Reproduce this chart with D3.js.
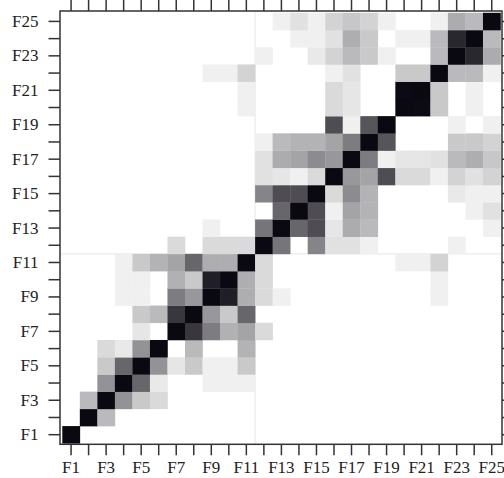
<!DOCTYPE html>
<html lang="en">
<meta charset="UTF-8">
<style>
    body { margin: 0; background: #fff; }
    .axis text { font-family: "Liberation Serif", "Times New Roman", serif; font-size: 17px; fill: #222; }
    .axis line { stroke: #333; stroke-width: 1.5px; }
    .frame { fill: none; stroke: #333; stroke-width: 1.5px; }
    .sep { stroke: #e6e6e6; stroke-width: 1px; }
</style>
<body>
<svg width="504" height="478" id="chart"></svg>
<script src="https://d3js.org/d3.v7.min.js"></script>
<script>
// feature names, F1..F25
const names = d3.range(1, 26).map(i => "F" + i);
// labelled ticks (every other one)
const tickLabels = ["F1","F3","F5","F7","F9","F11","F13","F15","F17","F19","F21","F23","F25"];

// cell intensity (0 = white, 1 = black), rows F1..F25, columns F1..F25
const values = [
/*F1 */ [1,0,0,0,0,0,0,0,0,0,0,0,0,0,0,0,0,0,0,0,0,0,0,0,0],
/*F2 */ [0,1,.28,0,0,0,0,0,0,0,0,0,0,0,0,0,0,0,0,0,0,0,0,0,0],
/*F3 */ [0,.28,1,.44,.22,.15,0,0,0,0,0,0,0,0,0,0,0,0,0,0,0,0,0,0,0],
/*F4 */ [0,0,.44,1,.62,.09,0,0,.06,.06,.06,0,0,0,0,0,0,0,0,0,0,0,0,0,0],
/*F5 */ [0,0,.22,.62,1,.44,.1,.22,.06,.06,.22,0,0,0,0,0,0,0,0,0,0,0,0,0,0],
/*F6 */ [0,0,.15,.09,.44,1,0,.28,0,0,.31,0,0,0,0,0,0,0,0,0,0,0,0,0,0],
/*F7 */ [0,0,0,0,.1,0,1,.81,.53,.32,.37,.15,0,0,0,0,0,0,0,0,0,0,0,0,0],
/*F8 */ [0,0,0,0,.22,.28,.81,1,.42,.22,.62,0,0,0,0,0,0,0,0,0,0,0,0,0,0],
/*F9 */ [0,0,0,.06,.06,0,.53,.42,1,.91,.33,.15,.06,0,0,0,0,0,0,0,0,.06,0,0,0],
/*F10*/ [0,0,0,.06,.06,0,.32,.22,.91,1,.33,.15,0,0,0,0,0,0,0,0,0,.06,0,0,0],
/*F11*/ [0,0,0,.06,.22,.31,.37,.62,.33,.33,1,.15,0,0,0,0,0,0,0,.06,.06,.18,0,0,0],
/*F12*/ [0,0,0,0,0,0,.15,0,.15,.15,.15,1,.56,0,.5,.12,.12,.06,0,0,0,0,.06,0,0],
/*F13*/ [0,0,0,0,0,0,0,0,.06,0,0,.56,1,.62,.72,.1,.34,.28,0,0,0,0,0,0,.06],
/*F14*/ [0,0,0,0,0,0,0,0,0,0,0,0,.62,1,.72,.06,.37,.31,0,0,0,0,0,.06,.12],
/*F15*/ [0,0,0,0,0,0,0,0,0,0,0,.5,.72,.72,1,.15,.47,.31,0,0,0,0,.09,.06,.06],
/*F16*/ [0,0,0,0,0,0,0,0,0,0,0,.12,.1,.06,.15,1,.42,.37,.72,.15,.15,.06,.18,.12,.18],
/*F17*/ [0,0,0,0,0,0,0,0,0,0,0,.12,.34,.37,.47,.42,1,.53,.06,.1,.1,.12,.28,.33,.23],
/*F18*/ [0,0,0,0,0,0,0,0,0,0,0,.06,.28,.31,.31,.37,.53,1,.69,0,0,0,.22,.22,.18],
/*F19*/ [0,0,0,0,0,0,0,0,0,0,0,0,0,0,0,.72,.06,.69,1,0,0,0,.06,0,.06],
/*F20*/ [0,0,0,0,0,0,0,0,0,0,.06,0,0,0,0,.15,.1,0,0,1,.99,.22,0,.06,0],
/*F21*/ [0,0,0,0,0,0,0,0,0,0,.06,0,0,0,0,.15,.1,0,0,.99,1,.22,0,.06,0],
/*F22*/ [0,0,0,0,0,0,0,0,.06,.06,.18,0,0,0,0,.06,.12,0,0,.22,.22,1,.28,.28,.06],
/*F23*/ [0,0,0,0,0,0,0,0,0,0,0,.06,0,0,.09,.18,.28,.22,.06,0,0,.28,1,.87,.34],
/*F24*/ [0,0,0,0,0,0,0,0,0,0,0,0,0,.06,.06,.12,.33,.22,0,.06,.06,.28,.87,1,.28],
/*F25*/ [0,0,0,0,0,0,0,0,0,0,0,0,.06,.12,.06,.18,.23,.18,.06,0,0,.06,.34,.28,1]
];

const svg = d3.select("#chart");

// frame box and the cell area just inside it
const frame = {left: 60, top: 11, right: 502, bottom: 444.3};
const x = d3.scaleBand().domain(names).range([62.3, 500.5]);
const y = d3.scaleBand().domain(names).range([443.3, 12.8]);
const color = d3.scaleLinear().domain([0, 1]).range(["#ffffff", "#0a0810"]);

// faint block separators between F11 and F12
const sx = x("F12");
const sy = y("F11");
svg.append("line").attr("class", "sep")
    .attr("x1", sx).attr("x2", sx).attr("y1", frame.top).attr("y2", frame.bottom);
svg.append("line").attr("class", "sep")
    .attr("x1", frame.left).attr("x2", frame.right).attr("y1", sy).attr("y2", sy);

const cells = [];
values.forEach((row, i) => {
    row.forEach((v, j) => {
        if (v > 0) cells.push({row: names[i], col: names[j], v: v});
    });
});

svg.append("g")
    .selectAll("rect")
    .data(cells)
    .enter().append("rect")
        .attr("x", d => x(d.col))
        .attr("y", d => y(d.row))
        .attr("width", x.bandwidth() + 0.3)
        .attr("height", y.bandwidth() + 0.3)
        .attr("fill", d => color(d.v));

const fmt = d => tickLabels.includes(d) ? d : "";

svg.append("g").attr("class", "axis")
    .attr("transform", `translate(0,${frame.bottom})`)
    .call(d3.axisBottom(x).tickSize(11).tickPadding(6).tickFormat(fmt))
    .call(g => g.select(".domain").remove());

svg.append("g").attr("class", "axis")
    .attr("transform", `translate(${frame.left},0)`)
    .call(d3.axisLeft(y).tickSize(11.5).tickPadding(10).tickFormat(fmt))
    .call(g => g.select(".domain").remove());

svg.append("g").attr("class", "axis")
    .attr("transform", `translate(0,${frame.top})`)
    .call(d3.axisTop(x).tickSize(11).tickFormat(""))
    .call(g => g.select(".domain").remove());

svg.append("g").attr("class", "axis")
    .attr("transform", `translate(${frame.right},0)`)
    .call(d3.axisRight(y).tickSize(11).tickFormat(""))
    .call(g => g.select(".domain").remove());

svg.append("rect").attr("class", "frame")
    .attr("x", frame.left)
    .attr("y", frame.top)
    .attr("width", frame.right - frame.left)
    .attr("height", frame.bottom - frame.top);
</script>
</body>
</html>
